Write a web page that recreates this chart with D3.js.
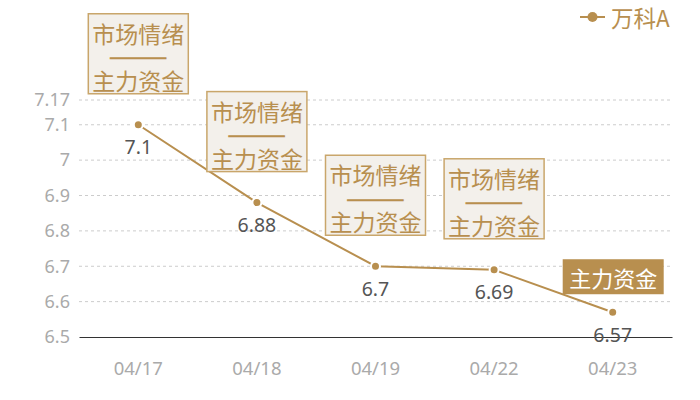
<!DOCTYPE html>
<html>
<head>
<meta charset="utf-8">
<script src="https://cdn.jsdelivr.net/npm/d3@7"></script>
<style>
  body { margin: 0; background: #fff; }
  svg { font-family: "Noto Sans CJK SC", "Noto Sans", sans-serif; }
</style>
</head>
<body>
<svg></svg>
<script>
const dates = ["04/17", "04/18", "04/19", "04/22", "04/23"];
const prices = [7.1, 6.88, 6.7, 6.69, 6.57];
const yTicks = [6.5, 6.6, 6.7, 6.8, 6.9, 7, 7.1, 7.17];
// annotation per point: two-line box or single filled tag
const notes = [["市场情绪", "主力资金"], ["市场情绪", "主力资金"], ["市场情绪", "主力资金"], ["市场情绪", "主力资金"], ["主力资金"]];
const seriesName = "万科A";

const gold = "#b88f4f";

const svg = d3.select("svg")
    .attr("width", 700)
    .attr("height", 400);

const margin = {top: 100, right: 28, bottom: 63, left: 79},
      width = 700 - margin.left - margin.right,
      height = 400 - margin.top - margin.bottom;

const g = svg.append("g")
    .attr("transform", `translate(${margin.left},${margin.top})`);

const x = d3.scaleBand()
    .domain(dates)
    .range([0, width]);

const y = d3.scaleLinear()
    .domain([6.5, 7.17])
    .range([height, 0]);

const cx = d => x(d) + x.bandwidth() / 2;

// grid
g.selectAll(".grid")
    .data(yTicks.filter(t => t !== 6.5))
    .enter().append("line")
    .attr("x1", 0)
    .attr("x2", width)
    .attr("y1", d => y(d))
    .attr("y2", d => y(d))
    .attr("stroke", "#ccc")
    .attr("stroke-dasharray", "3,3");

// y axis
const yAxis = g.append("g")
    .call(d3.axisLeft(y).tickValues(yTicks).tickSize(0).tickPadding(9).tickFormat(d => d));
yAxis.select(".domain").remove();
yAxis.selectAll("text")
    .attr("fill", "#aaa")
    .style("font-size", "18px")
    .style("font-family", "'Noto Sans', sans-serif");

// x axis
const xAxis = g.append("g")
    .attr("transform", `translate(0,${height})`)
    .call(d3.axisBottom(x).tickSize(0).tickPadding(25));
xAxis.select(".domain").attr("stroke", "#333").attr("stroke-width", 1.2);
xAxis.selectAll("text")
    .attr("fill", "#aaa")
    .style("font-size", "18.5px")
    .style("font-family", "'Noto Sans', sans-serif");

// line
const line = d3.line()
    .x((d, i) => cx(dates[i]))
    .y(d => y(d));

g.append("path")
    .datum(prices)
    .attr("fill", "none")
    .attr("stroke", gold)
    .attr("stroke-width", 2)
    .attr("d", line);

g.selectAll(".dot")
    .data(prices)
    .enter().append("circle")
    .attr("cx", (d, i) => cx(dates[i]))
    .attr("cy", d => y(d))
    .attr("r", 4.5)
    .attr("fill", gold)
    .attr("stroke", "#fff")
    .attr("stroke-width", 2);

g.selectAll(".val")
    .data(prices)
    .enter().append("text")
    .attr("x", (d, i) => cx(dates[i]))
    .attr("y", d => y(d) + 22)
    .attr("text-anchor", "middle")
    .attr("dominant-baseline", "central")
    .attr("fill", "#555")
    .style("font-size", "19.5px")
    .style("font-family", "'Noto Sans', sans-serif")
    .text(d => d);

// annotation boxes
notes.forEach((n, i) => {
    const px = cx(dates[i]), py = y(prices[i]);
    const ag = g.append("g");
    if (n.length === 2) {
        const top = py - 31 - 80;
        ag.append("rect")
            .attr("x", px - 50).attr("y", top)
            .attr("width", 100).attr("height", 80)
            .attr("fill", "#f3f0eb")
            .attr("stroke", "#c9a66b")
            .attr("stroke-width", 1.5);
        [n[0], n[1]].forEach((t, k) => {
            ag.append("text")
                .attr("x", px).attr("y", top + (k ? 66 : 19))
                .attr("text-anchor", "middle")
                .attr("dominant-baseline", "central")
                .attr("fill", gold)
                .style("font-size", "23px")
                .text(t);
        });
        // separator dash, stretched to box-line width
        ag.append("text")
            .attr("x", px - 25).attr("y", top + 43.5)
            .attr("dominant-baseline", "central")
            .attr("textLength", 50)
            .attr("lengthAdjust", "spacingAndGlyphs")
            .attr("fill", gold)
            .attr("stroke", gold)
            .attr("stroke-width", 1.5)
            .style("font-size", "7px")
            .text("—");
    } else {
        const top = py - 18 - 35;
        ag.append("rect")
            .attr("x", px - 50).attr("y", top)
            .attr("width", 101).attr("height", 35)
            .attr("fill", gold);
        ag.append("text")
            .attr("x", px + 0.5).attr("y", top + 18)
            .attr("text-anchor", "middle")
            .attr("dominant-baseline", "central")
            .attr("fill", "#fff")
            .style("font-size", "22px")
            .text(n[0]);
    }
});

// legend
const lg = svg.append("g").attr("transform", "translate(580,17)");
lg.append("line").attr("x1", 0).attr("x2", 25).attr("stroke", gold).attr("stroke-width", 2);
lg.append("circle").attr("cx", 12.5).attr("r", 5).attr("fill", gold);
lg.append("text")
    .attr("x", 31).attr("y", 0)
    .attr("dominant-baseline", "central")
    .attr("fill", gold)
    .style("font-size", "22.5px")
    .text(seriesName);
</script>
</body>
</html>
